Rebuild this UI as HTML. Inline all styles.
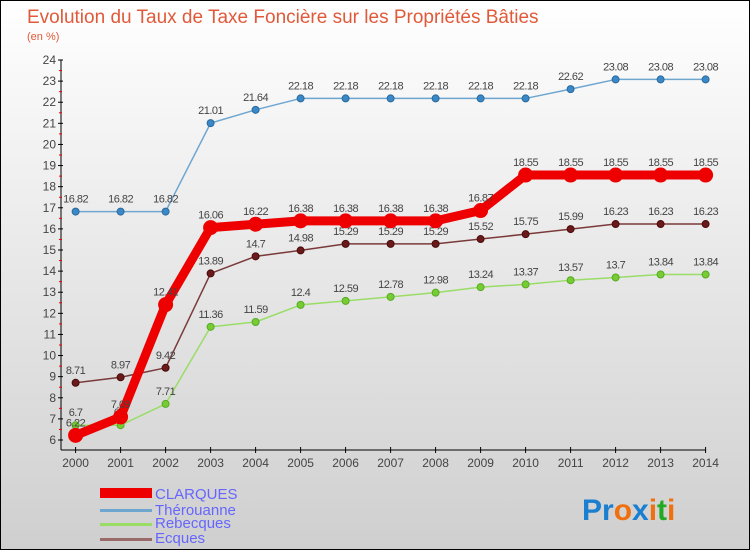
<!DOCTYPE html>
<html><head><meta charset="utf-8"><style>
body{margin:0}
#c{width:750px;height:550px;position:relative;overflow:hidden;font-family:"Liberation Sans",sans-serif}
</style></head><body>
<div id="c">
<svg id="s" width="750" height="550" xmlns="http://www.w3.org/2000/svg">
<defs><linearGradient id="bg" x1="0" y1="0" x2="0" y2="1"><stop offset="0" stop-color="#ffffff"/><stop offset="1" stop-color="#cfcfcf"/></linearGradient></defs>
<rect x="0.5" y="0.5" width="749" height="549" fill="url(#bg)" stroke="#000"/>
<text x="27" y="23" font-size="19" fill="#e05a3a">Evolution du Taux de Taxe Foncière sur les Propriétés Bâties</text>
<text x="27" y="40" font-size="11" fill="#e05a3a">(en %)</text>
<g id="axes"></g><g id="series"></g>
<g>
<rect x="100" y="488" width="52" height="10" fill="#ee0000"/>
<text x="155" y="499" font-size="15" fill="#6666ff">CLARQUES</text>
<rect x="100" y="509" width="52" height="3" fill="#6fa6d0"/>
<text x="155" y="515" font-size="15" fill="#6666ff">Thérouanne</text>
<rect x="100" y="523" width="52" height="3" fill="#99dd66"/>
<text x="155" y="528" font-size="15" fill="#6666ff">Rebecques</text>
<rect x="100" y="538" width="52" height="3" fill="#9a6a6a"/>
<text x="155" y="543" font-size="15" fill="#6666ff">Ecques</text>
</g>
<g font-size="30" font-weight="bold">
<text x="582" y="520"><tspan fill="#1a7fd0">Pr</tspan><tspan fill="#f07010">o</tspan><tspan fill="#1a7fd0">x</tspan><tspan fill="#f07010">i</tspan><tspan fill="#22aa22">t</tspan><tspan fill="#f07010">i</tspan></text>
</g>
</svg>
</div>
<script>
const years=[2000,2001,2002,2003,2004,2005,2006,2007,2008,2009,2010,2011,2012,2013,2014];
const clarques=[6.22,7.09,12.41,16.06,16.22,16.38,16.38,16.38,16.38,16.87,18.55,18.55,18.55,18.55,18.55];
const therouanne=[16.82,16.82,16.82,21.01,21.64,22.18,22.18,22.18,22.18,22.18,22.18,22.62,23.08,23.08,23.08];
const rebecques=[6.7,6.7,7.71,11.36,11.59,12.4,12.59,12.78,12.98,13.24,13.37,13.57,13.7,13.84,13.84];
const ecques=[8.71,8.97,9.42,13.89,14.7,14.98,15.29,15.29,15.29,15.52,15.75,15.99,16.23,16.23,16.23];
const yTicks=[6,7,8,9,10,11,12,13,14,15,16,17,18,19,20,21,22,23,24];
const NS="http://www.w3.org/2000/svg";
const x=i=>75.6+i*45.0;
const y=v=>440-(v-6)*(380/18);
function mk(t,a,p){const e=document.createElementNS(NS,t);for(const k in a)e.setAttribute(k,a[k]);p.appendChild(e);return e;}
const ax=document.getElementById('axes'),sr=document.getElementById('series');
let l=mk('line',{x1:61,y1:y(24),x2:61,y2:450,stroke:'#000'},ax);


l=mk('line',{x1:61,y1:450,x2:706,y2:450,stroke:'#000'},ax);


yTicks.forEach(v=>{
 mk('line',{x1:58,y1:y(v),x2:63,y2:y(v),stroke:'#000'},ax);
 if(v<24)mk('line',{x1:59,y1:y(v+0.5),x2:62,y2:y(v+0.5),stroke:'#e00'},ax);
 const t=mk('text',{x:56,y:y(v)+4,'font-size':12,fill:'#444','text-anchor':'end'},ax);
 t.textContent=v;
 
 
});
years.forEach((yr,i)=>{
 mk('line',{x1:x(i),y1:447,x2:x(i),y2:453,stroke:'#000'},ax);
 const t=mk('text',{x:x(i),y:467,'font-size':12,fill:'#444','text-anchor':'middle'},ax);
 t.textContent=yr;
 
 
});
function series(data,name,color,w,r,dot,dotStroke){
 const g=mk('g',{},sr);
 
 
 const p=mk('polyline',{points:data.map((v,i)=>x(i)+','+y(v)).join(' '),fill:'none',stroke:color,'stroke-width':w,'stroke-linejoin':'round'},g);
 
 
 data.forEach((v,i)=>{
  const c=mk('circle',{cx:x(i),cy:y(v),r:r,fill:dot,stroke:dotStroke,'stroke-width':1},g);
  
  
  const t=mk('text',{x:x(i),y:y(v)-9,'font-size':11,fill:'#444','text-anchor':'middle','letter-spacing':'-0.5'},g);
  t.textContent=v;
  
  
 });
}
series(therouanne,'therouanne','#6fa6d0',1.5,3.5,'#3a88c8','#2a6a9a');
series(rebecques,'rebecques','#99dd66',1.5,3.5,'#77cc33','#55aa22');
series(ecques,'ecques','#7a3a3a',1.5,3.5,'#6a1a1a','#4a0a0a');
series(clarques,'clarques','#ee0000',9,7,'#ee0000','#ee0000');
</script>
</body></html>
